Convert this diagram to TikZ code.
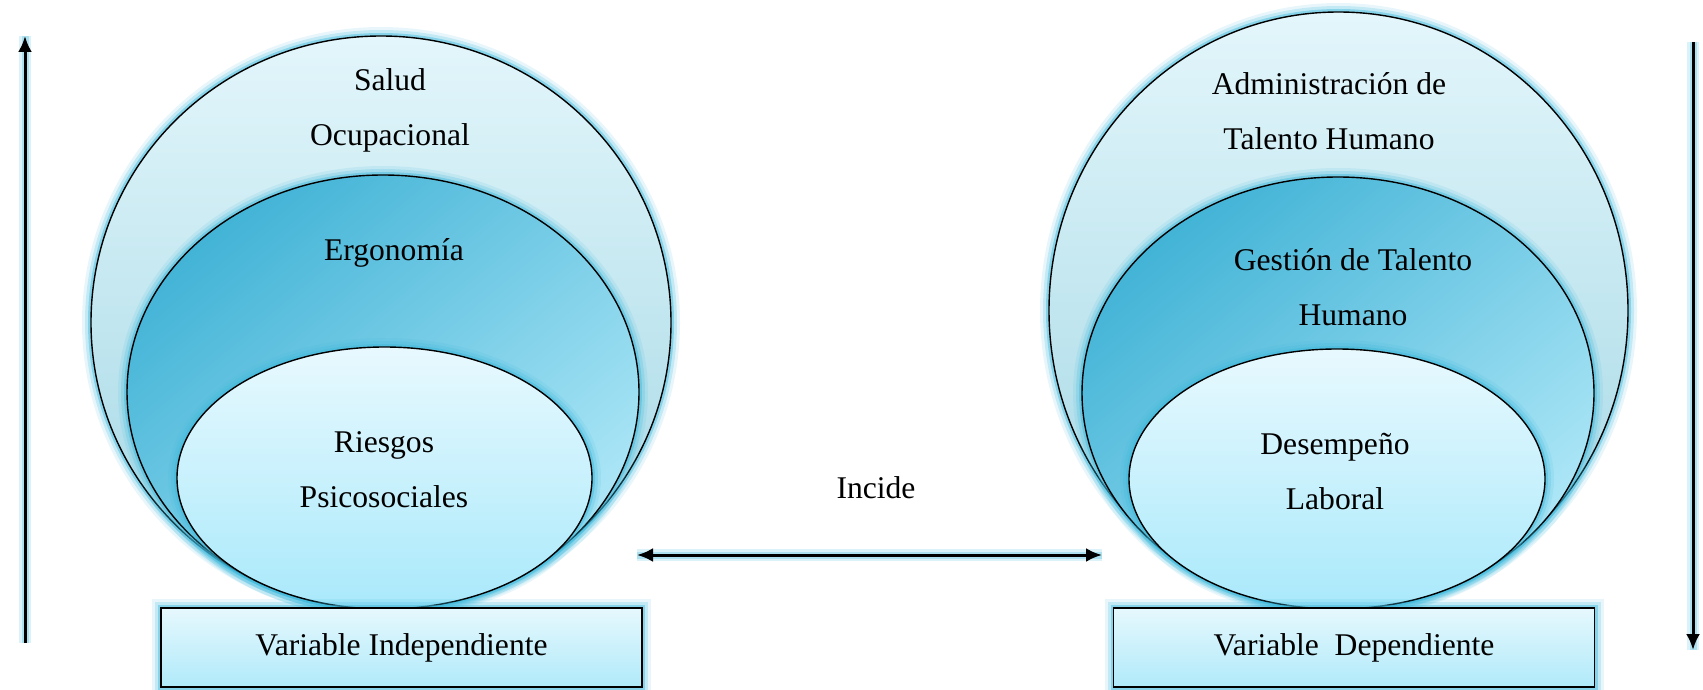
\documentclass[tikz,border=0pt]{standalone}
\usepackage{fontspec}
\setmainfont{Liberation Serif}
\usetikzlibrary{shapes.geometric,arrows.meta}
\definecolor{glowc}{HTML}{3FB9DC}
\definecolor{outerTop}{HTML}{E3F6FB}
\definecolor{outerBot}{HTML}{A0D6E4}
\definecolor{midA}{HTML}{42B3D6}
\definecolor{midB}{HTML}{AEE7F7}
\definecolor{innerTop}{HTML}{E8F9FE}
\definecolor{innerBot}{HTML}{A9E9FB}
\definecolor{rectTop}{HTML}{E6F8FD}
\definecolor{rectBot}{HTML}{B0EAFA}
\begin{document}
\begin{tikzpicture}[x=0.5pt,y=-0.5pt,
  glow/.style={preaction={draw=glowc,line width=9pt,opacity=0.12},
               preaction={draw=glowc,line width=6pt,opacity=0.22},
               preaction={draw=glowc,line width=3pt,opacity=0.45}},
  blob/.style={ellipse,draw=black,line width=0.7pt,inner sep=0pt,outer sep=0pt,glow},
  outerc/.style={blob,top color=outerTop,bottom color=outerBot},
  midc/.style={blob,top color=midA,bottom color=midB,shading angle=40},
  innerc/.style={blob,top color=innerTop,bottom color=innerBot},
  varbox/.style={rectangle,draw=black,line width=0.6pt,inner sep=0pt,outer sep=0pt,
    top color=rectTop,bottom color=rectBot,glow,
    minimum width=240.5pt,minimum height=39.5pt,font=\fontsize{15.8}{19}\selectfont},
  lbl/.style={align=center,font=\fontsize{15.8}{27.5}\selectfont,inner sep=0pt},
  arr/.style={line width=1.5pt,-{Latex[length=8pt,width=7pt]},
    preaction={draw=glowc,line width=6pt,opacity=0.18,-},
    preaction={draw=glowc,line width=3.5pt,opacity=0.3,-}},
  darr/.style={line width=1.5pt,{Latex[length=8pt,width=7pt]}-{Latex[length=8pt,width=7pt]},
    preaction={draw=glowc,line width=6pt,opacity=0.18,-},
    preaction={draw=glowc,line width=3.5pt,opacity=0.3,-}}
]
\useasboundingbox (0,0) rectangle (1703,690);

% left group
\node[outerc,minimum width=290pt,minimum height=286.5pt] (lo) at (381,322.5) {};
\node[midc,minimum width=256pt,minimum height=217pt] (lm) at (383,392) {};
\node[innerc,minimum width=207.5pt,minimum height=131pt] (li) at (384.5,478) {};
\node[varbox] (vi) at (401.5,647.5) {Variable Independiente};

\node[lbl] (tlo) at (390,110) {Salud\\Ocupacional};
\node[lbl] (tlm) at (394,253) {Ergonomía};
\node[lbl] (tli) at (384,470) {Riesgos\\Psicosociales};

% right group
\node[outerc,minimum width=289.5pt,minimum height=298.5pt] (ro) at (1338.5,310.5) {};
\node[midc,minimum width=256pt,minimum height=216pt] (rm) at (1338,393) {};
\node[innerc,minimum width=208pt,minimum height=130pt] (ri) at (1337,479) {};
\node[varbox] (vd) at (1354,647.5) {Variable~~Dependiente};

\node[lbl] (tro) at (1329,111) {Administración de\\Talento Humano};
\node[lbl] (trm) at (1353,287) {Gestión de Talento\\Humano};
\node[lbl] (tri) at (1335,472) {Desempeño\\Laboral};

% middle
\node[lbl] (inc) at (876,488) {Incide};
\coordinate (dl) at (637,555);
\coordinate (dr) at (1102,555);
\draw[darr] (dl) -- (dr);

% side arrows
\coordinate (la0) at (25,643);
\coordinate (la1) at (25,36);
\draw[arr] (la0) -- (la1);
\coordinate (ra0) at (1693,42);
\coordinate (ra1) at (1693,650);
\draw[arr] (ra0) -- (ra1);
\end{tikzpicture}
\end{document}
